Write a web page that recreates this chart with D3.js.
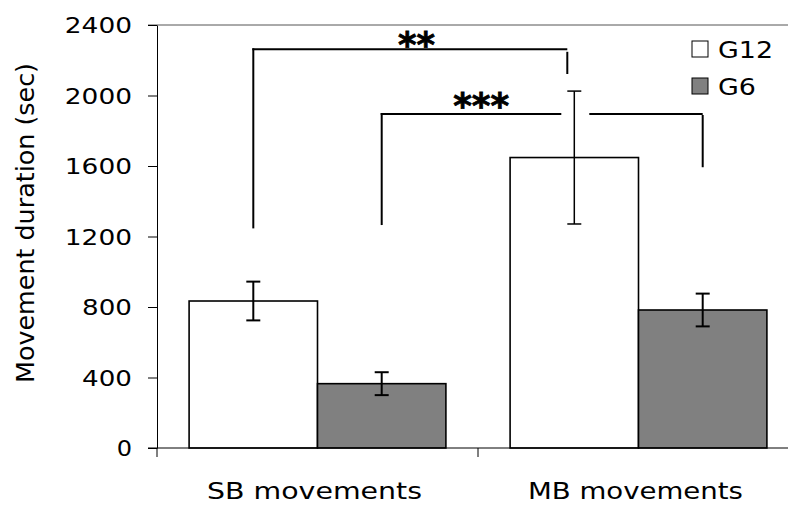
<!DOCTYPE html>
<html>
<head>
<meta charset="utf-8">
<script src="https://cdn.jsdelivr.net/npm/d3@7"></script>
<style>
  html, body { margin: 0; padding: 0; background: #fff; }
  svg { display: block; font-family: "DejaVu Sans", Verdana, sans-serif; }
</style>
</head>
<body>
<svg id="chart" width="788" height="505"></svg>
<script>
// Movement duration by movement type, two groups, mean ± error
const categories = ["SB movements", "MB movements"];
const series = ["G12", "G6"];
const g12Values = [834, 1648];
const g12Errors = [110, 377];
const g6Values = [365, 783];
const g6Errors = [65, 93];
const yTicks = [0, 400, 800, 1200, 1600, 2000, 2400];
const yLabel = "Movement duration (sec)";

// Significance brackets: bar endpoints, bracket level and leg ends (in seconds)
const sigLabels = ["**", "***"];
const sigFrom = [[0, "G12"], [0, "G6"]];
const sigTo = [[1, "G12"], [1, "G6"]];
const sigLevel = [2262, 1895];
const sigLeftEnd = [1246, 1265];
const sigRightTop = [2248, 1895];
const sigRightEnd = [2122, 1593];

const seriesFill = { G12: "#ffffff", G6: "#808080" };
const values = { G12: g12Values, G6: g6Values };
const errors = { G12: g12Errors, G6: g6Errors };

const svg = d3.select("#chart");
const x0 = 157, xEnd = 799, yTop = 25, yBot = 448;

const x = d3.scaleBand().domain(categories).range([x0, xEnd]).paddingInner(0).paddingOuter(0);
const x1 = d3.scaleBand().domain(series).range([0, x.bandwidth()]).paddingInner(0).paddingOuter(0.25);
const y = d3.scaleLinear().domain([0, 2400]).range([yBot, yTop]);

const barCenter = (ci, s) => x(categories[ci]) + x1(s) + x1.bandwidth() / 2;

// top frame line
svg.append("line")
  .attr("x1", x0 - 9).attr("x2", 788).attr("y1", y(2400)).attr("y2", y(2400))
  .attr("stroke", "#555").attr("stroke-width", 1);

// bars
const groups = svg.append("g").selectAll("g")
  .data(categories).join("g")
  .attr("transform", d => `translate(${x(d)},0)`);

groups.selectAll("rect")
  .data((d, i) => series.map(s => ({ s, v: values[s][i] })))
  .join("rect")
  .attr("x", d => x1(d.s))
  .attr("width", x1.bandwidth())
  .attr("y", d => y(d.v))
  .attr("height", d => y(0) - y(d.v))
  .attr("fill", d => seriesFill[d.s])
  .attr("stroke", "#000")
  .attr("stroke-width", 1.6);

// error bars
const capHalf = 7;
groups.each(function (c, i) {
  const g = d3.select(this);
  series.forEach(s => {
    const cx = x1(s) + x1.bandwidth() / 2;
    const hi = y(values[s][i] + errors[s][i]);
    const lo = y(values[s][i] - errors[s][i]);
    const sw = errors[s][i] > 200 ? 1.5 : 2;
    g.append("line").attr("x1", cx).attr("x2", cx).attr("y1", hi).attr("y2", lo)
      .attr("stroke", "#000").attr("stroke-width", sw);
    [hi, lo].forEach(yy => g.append("line")
      .attr("x1", cx - capHalf).attr("x2", cx + capHalf).attr("y1", yy).attr("y2", yy)
      .attr("stroke", "#000").attr("stroke-width", sw));
  });
});

// y axis
const yAxis = d3.axisLeft(y).tickValues(yTicks).tickFormat(d3.format("d"))
  .tickSize(9).tickSizeOuter(0).tickPadding(16);
const gy = svg.append("g").attr("transform", `translate(${x0},0)`).call(yAxis);
gy.select(".domain").attr("stroke", "#000").attr("stroke-width", 1);
gy.selectAll(".tick line").attr("stroke", "#000");
gy.selectAll(".tick text")
  .attr("font-size", 22)
  .attr("fill", "#000")
  .attr("font-family", "DejaVu Sans, sans-serif")
  .attr("dy", "0.36em")
  .each(function () {
    const t = d3.select(this);
    const n = t.text().length;
    t.attr("textLength", n * 17.3 - 2).attr("lengthAdjust", "spacingAndGlyphs");
  });

// x axis line and category boundary ticks
svg.append("line")
  .attr("x1", x0 - 9).attr("x2", 788).attr("y1", yBot).attr("y2", yBot)
  .attr("stroke", "#000").attr("stroke-width", 1);
svg.append("g").selectAll("line")
  .data(categories.map(c => x(c)).concat([xEnd]))
  .join("line")
  .attr("x1", d => d).attr("x2", d => d)
  .attr("y1", yBot).attr("y2", yBot + 9)
  .attr("stroke", "#000").attr("stroke-width", 1);

// category labels
svg.append("g").selectAll("text")
  .data(categories).join("text")
  .attr("x", d => x(d) + x.bandwidth() / 2 - 3)
  .attr("y", 499)
  .attr("text-anchor", "middle")
  .attr("font-size", 23)
  .attr("textLength", 215)
  .attr("lengthAdjust", "spacingAndGlyphs")
  .text(d => d);

// y axis title
svg.append("text")
  .attr("transform", `translate(34,${(63 + 383) / 2}) rotate(-90)`)
  .attr("text-anchor", "middle")
  .attr("font-size", 24)
  .attr("textLength", 320)
  .attr("lengthAdjust", "spacingAndGlyphs")
  .text(yLabel);

// significance brackets
const sigG = svg.append("g");
const labelFrac = [0.52, 0.31];
const starCenter = [41, 101.5];
sigLabels.forEach((lab, k) => {
  const xl = barCenter(sigFrom[k][0], sigFrom[k][1]);
  let xr = barCenter(sigTo[k][0], sigTo[k][1]);
  const yl = y(sigLevel[k]);
  const line = (a, b, c, d) => sigG.append("line")
    .attr("x1", a).attr("y1", b).attr("x2", c).attr("y2", d)
    .attr("stroke", "#000").attr("stroke-width", 2);
  if (k === 0) {
    xr = xr - 7;
    line(xl, y(sigLeftEnd[k]), xl, yl - 1);
    line(xl - 1, yl, xr, yl);
    line(xr, y(sigRightTop[k]), xr, y(sigRightEnd[k]));
  } else {
    // the bracket is broken where it crosses the tall error bar
    const gapC = barCenter(1, "G12");
    line(xl, y(sigLeftEnd[k]), xl, yl - 1);
    line(xl - 1, yl, gapC - 13, yl);
    line(gapC + 15, yl, xr, yl);
    line(xr, yl + 1, xr, y(sigRightEnd[k]));
  }
  const cx = xl + (xr - xl) * labelFrac[k];
  const fs = 36;
  sigG.append("text")
    .attr("x", cx)
    .attr("y", starCenter[k] + 0.45 * fs)
    .attr("text-anchor", "middle")
    .attr("font-size", fs)
    .attr("font-weight", "bold")
    .attr("stroke", "#000")
    .attr("stroke-width", 0.8)
    .attr("textLength", lab.length * 19 - 1)
    .attr("lengthAdjust", "spacingAndGlyphs")
    .text(lab);
});

// legend
const legend = svg.append("g").selectAll("g")
  .data(series).join("g")
  .attr("transform", (d, i) => `translate(692,${41 + i * 37})`);
legend.append("rect")
  .attr("width", 16).attr("height", 16)
  .attr("fill", d => seriesFill[d])
  .attr("stroke", "#000").attr("stroke-width", 1);
legend.append("text")
  .attr("x", 26).attr("y", 16.5)
  .attr("font-size", 23)
  .attr("textLength", d => d === "G12" ? 55 : 38)
  .attr("lengthAdjust", "spacingAndGlyphs")
  .text(d => d);
</script>
</body>
</html>
